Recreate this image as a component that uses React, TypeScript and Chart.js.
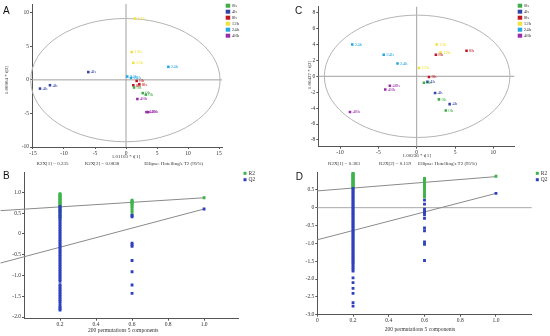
import React, { useEffect, useRef } from 'react';
import { Chart, registerables } from 'chart.js';

Chart.register(...registerables);

const SERIF = "'Liberation Serif', 'Times New Roman', serif";
const SANS = "'Liberation Sans', Arial, sans-serif";
const AXIS_COLOR = '#555555';
const W = 275;
const H = 168;

const groupNames = ['0h', '4h', '8h', '12h', '24h', '48h'];
const groupColors = ['#41ad4a', '#3443a6', '#c1161f', '#f2e23c', '#26a6e3', '#9b2ca9'];

// ---------- Panel A: PCA scores [t1, t2] ----------
const scoresA0h = [[1.3, -1.14], [2.7, -1.97], [3.2, -2.2]];
const scoresA4h = [[-6.08, 1.16], [-12.26, -0.8], [-13.87, -1.3]];
const scoresA8h = [[1.72, -0.16], [2.15, -0.65], [1.18, -0.8]];
const scoresA12h = [[1.45, 9.13], [0.92, 4.14], [1.18, 2.53]];
const scoresA24h = [[6.83, 1.94], [0.2, 0.5], [0.8, 0.3]];
const scoresA48h = [[1.83, -2.85], [3.3, -4.8], [3.6, -4.8]];
const ticksAx = [-15, -10, -5, 0, 5, 10, 15];
const ticksAy = [-10, -5, 0, 5, 10];

// ---------- Panel C: PCA scores [t1, t2] ----------
const scoresC0h = [[0.95, -0.8], [2.9, -2.9], [3.8, -4.3]];
const scoresC4h = [[1.4, -0.7], [2.4, -2.1], [4.3, -3.5]];
const scoresC8h = [[6.5, 3.2], [2.5, 2.7], [1.6, -0.1]];
const scoresC12h = [[2.6, 4.0], [3.1, 3.0], [0.3, 1.05]];
const scoresC24h = [[-8.4, 4.0], [-4.3, 2.7], [-2.5, 1.6]];
const scoresC48h = [[-3.5, -1.2], [-4.1, -1.65], [-8.7, -4.5]];
const ticksCx = [-10, -5, 0, 5, 10];
const ticksCy = [-8, -6, -4, -2, 0, 2, 4, 6, 8];

// ---------- Panel B: permutation test ----------
const bR2At02 = [0.97, 0.95, 0.93, 0.91, 0.89, 0.87, 0.85, 0.83, 0.81, 0.79, 0.77, 0.75, 0.73, 0.71, 0.69, 0.67, 0.65, 0.63, 0.6, 0.57, 0.54, 0.5, 0.46, 0.42, 0.38];
const bQ2At02 = [0.66, 0.62, 0.58, 0.54, 0.5, 0.46, 0.42, 0.38, 0.34, 0.3, 0.26, 0.22, 0.18, 0.14, 0.1, 0.06, 0.02, -0.02, -0.06, -0.1, -0.14, -0.18, -0.22, -0.26, -0.3, -0.34, -0.38, -0.42, -0.46, -0.5, -0.54, -0.58, -0.62, -0.66, -0.7, -0.74, -0.78, -0.82, -0.86, -0.9, -0.94, -0.98, -1.02, -1.06, -1.1, -1.14, -1.22, -1.26, -1.3, -1.34, -1.38, -1.42, -1.46, -1.5, -1.54, -1.58, -1.62, -1.66, -1.72, -1.76, -1.8, -1.83];
const bR2At06 = [0.81, 0.79, 0.77, 0.75, 0.73, 0.7, 0.66, 0.62, 0.57, 0.52, 0.45];
const bQ2At06 = [0.45, 0.41, -0.22, -0.26, -0.3, -0.64, -0.91, -1.23, -1.43];
const bR2At1 = [0.87];
const bQ2At1 = [0.6];
const bR2Line = [[-0.13, 0.56], [1, 0.87]];
const bQ2Line = [[-0.13, -0.7], [1, 0.6]];
const ticksBx = [0.2, 0.4, 0.6, 0.8, 1];
const ticksBy = [-2, -1.5, -1, -0.5, 0, 0.5, 1];

// ---------- Panel D: permutation test ----------
const dR2At02 = [0.97, 0.95, 0.93, 0.91, 0.89, 0.87, 0.85, 0.83, 0.81, 0.79, 0.77, 0.75, 0.73, 0.71, 0.69, 0.67, 0.65, 0.63, 0.61, 0.59, 0.57, 0.55];
const dQ2At02 = [0.54, 0.5, 0.46, 0.42, 0.38, 0.34, 0.3, 0.26, 0.22, 0.18, 0.14, 0.1, 0.06, 0.02, -0.02, -0.06, -0.1, -0.14, -0.18, -0.22, -0.26, -0.3, -0.34, -0.38, -0.42, -0.46, -0.5, -0.54, -0.58, -0.62, -0.66, -0.7, -0.74, -0.78, -0.82, -0.86, -0.9, -0.94, -0.98, -1.02, -1.06, -1.1, -1.14, -1.18, -1.22, -1.26, -1.3, -1.34, -1.38, -1.42, -1.46, -1.5, -1.54, -1.58, -1.63, -1.68, -1.73, -1.78, -1.97, -2.1, -2.26, -2.4, -2.66, -2.76];
const dR2At06 = [0.82, 0.79, 0.76, 0.73, 0.7, 0.66, 0.62, 0.58, 0.53, 0.47, 0.41, 0.35, 0.3];
const dQ2At06 = [0.21, 0.1, -0.04, -0.1, -0.14, -0.2, -0.3, -0.57, -0.65, -0.96, -1.03, -1.48];
const dR2At1 = [0.88];
const dQ2At1 = [0.4];
const dR2Line = [[0, 0.47], [1, 0.87]];
const dQ2Line = [[0, -0.9], [1, 0.4]];
const ticksDx = [0, 0.2, 0.4, 0.6, 0.8, 1];
const ticksDy = [-3, -2.5, -2, -1.5, -1, -0.5, 0, 0.5];

const R2_COLOR = '#3fb34a';
const Q2_COLOR = '#2f40bd';

function fixedAxis(min: number, max: number, ticks: number[], size: number, horizontal: boolean) {
  return {
    type: 'linear',
    min,
    max,
    afterBuildTicks: (s: any) => {
      s.ticks = ticks.map((v) => ({ value: v }));
    },
    afterFit: (s: any) => {
      if (horizontal) s.height = size;
      else s.width = size;
      s.paddingLeft = 0;
      s.paddingRight = 0;
      s.paddingTop = 0;
      s.paddingBottom = 0;
    },
    grid: { drawOnChartArea: false, drawTicks: true, tickLength: 2, color: AXIS_COLOR, lineWidth: 1 },
    border: { display: true, color: AXIS_COLOR, width: 1 },
    ticks: {
      autoSkip: false,
      maxRotation: 0,
      minRotation: 0,
      padding: 1,
      color: '#333',
      font: { family: SERIF, size: 5.5 },
    },
  };
}

function drawText(ctx: CanvasRenderingContext2D, text: string, x: number, y: number, size: number, align: CanvasTextAlign = 'center', color = '#333', family = SERIF) {
  ctx.font = `${size}px ${family}`;
  ctx.fillStyle = color;
  ctx.textAlign = align;
  ctx.textBaseline = 'middle';
  ctx.fillText(text, x, y);
}

type PcaPanel = {
  scores: number[][][];
  xMin: number; xMax: number; yMin: number; yMax: number;
  xTicks: number[]; yTicks: number[];
  ellipse: number[];
  area: { left: number; top: number; right: number; bottom: number };
  letter: string; letterX: number; letterY: number;
  legendX: number;
  xTitle: string; xTitleX: number; xTitleY: number;
  yTitle: string; yTitleX: number; yTitleY: number;
  footer: [string, number][]; footerY: number;
};

function pcaConfig(p: PcaPanel): any {
  const plugin = {
    id: 'pcaDecor',
    beforeDatasetsDraw(chart: any) {
      const { ctx, chartArea: a, scales } = chart;
      const x = scales.x, y = scales.y;
      ctx.save();
      ctx.strokeStyle = '#a0a0a0';
      ctx.lineWidth = 1;
      const x0 = x.getPixelForValue(0);
      const y0 = y.getPixelForValue(0);
      ctx.beginPath();
      ctx.moveTo(x0, a.top);
      ctx.lineTo(x0, a.bottom);
      ctx.moveTo(a.left, y0);
      ctx.lineTo(a.right, y0);
      ctx.stroke();
      const cx = x.getPixelForValue(p.ellipse[0]);
      const cy = y.getPixelForValue(p.ellipse[1]);
      const rx = Math.abs(x.getPixelForValue(p.ellipse[0] + p.ellipse[2]) - cx);
      const ry = Math.abs(y.getPixelForValue(p.ellipse[1] + p.ellipse[3]) - cy);
      ctx.strokeStyle = '#b4b4b4';
      ctx.beginPath();
      ctx.ellipse(cx, cy, rx, ry, 0, 0, Math.PI * 2);
      ctx.stroke();
      ctx.restore();
    },
    afterDatasetsDraw(chart: any) {
      const { ctx } = chart;
      ctx.save();
      chart.data.datasets.forEach((ds: any, i: number) => {
        const meta = chart.getDatasetMeta(i);
        meta.data.forEach((el: any) => {
          drawText(ctx, ds.label, el.x + 2.5, el.y, 5, 'left', ds.backgroundColor);
        });
      });
      ctx.restore();
    },
    afterDraw(chart: any) {
      const { ctx } = chart;
      ctx.save();
      drawText(ctx, p.letter, p.letterX, p.letterY, 10, 'left', '#111', SANS);
      groupNames.forEach((g, i) => {
        const yy = 5.7 + i * 6;
        ctx.fillStyle = groupColors[i];
        ctx.fillRect(p.legendX, yy - 2, 4.5, 4);
        drawText(ctx, g, p.legendX + 6, yy, 5, 'left', '#444');
      });
      drawText(ctx, p.xTitle, p.xTitleX, p.xTitleY, 5, 'center', '#333');
      ctx.save();
      ctx.translate(p.yTitleX, p.yTitleY);
      ctx.rotate(-Math.PI / 2);
      drawText(ctx, p.yTitle, 0, 0, 5, 'center', '#333');
      ctx.restore();
      p.footer.forEach(([t, fx]) => drawText(ctx, t, fx, p.footerY, 5, 'center', '#333'));
      ctx.restore();
    },
  };
  return {
    type: 'scatter',
    data: {
      datasets: p.scores.map((pts, i) => ({
        label: groupNames[i],
        data: pts.map(([x, y]) => ({ x, y })),
        pointStyle: 'rect',
        pointRadius: 1.8,
        borderWidth: 0,
        backgroundColor: groupColors[i],
        borderColor: groupColors[i],
      })),
    },
    options: {
      responsive: false,
      animation: false,
      devicePixelRatio: 1,
      events: [],
      layout: { padding: { left: 0, top: p.area.top, right: W - p.area.right, bottom: 0 } },
      plugins: { legend: { display: false }, tooltip: { enabled: false } },
      scales: {
        x: fixedAxis(p.xMin, p.xMax, p.xTicks, H - p.area.bottom, true),
        y: fixedAxis(p.yMin, p.yMax, p.yTicks, p.area.left, false),
      },
    },
    plugins: [plugin],
  };
}

type PermPanel = {
  r2: number[][]; q2: number[][];
  r2Line: number[][]; q2Line: number[][];
  xMin: number; xMax: number; yMin: number; yMax: number;
  xTicks: number[]; yTicks: number[];
  area: { left: number; top: number; right: number; bottom: number };
  letter: string; letterX: number; letterY: number;
  legendX: number;
  xTitleX: number; xTitleY: number;
  zeroLine: boolean;
};

function column(x: number, values: number[]) {
  return values.map((v) => [x, v]);
}

function permConfig(p: PermPanel): any {
  const plugin = {
    id: 'permDecor',
    beforeDatasetsDraw(chart: any) {
      if (!p.zeroLine) return;
      const { ctx, chartArea: a, scales } = chart;
      const y0 = scales.y.getPixelForValue(0);
      ctx.save();
      ctx.strokeStyle = '#a8a8a8';
      ctx.lineWidth = 1;
      ctx.beginPath();
      ctx.moveTo(a.left, y0);
      ctx.lineTo(a.right, y0);
      ctx.stroke();
      ctx.restore();
    },
    afterDraw(chart: any) {
      const { ctx } = chart;
      ctx.save();
      drawText(ctx, p.letter, p.letterX, p.letterY, 10, 'left', '#111', SANS);
      [['R2', R2_COLOR], ['Q2', Q2_COLOR]].forEach(([t, c], i) => {
        const yy = 5.3 + i * 6.4;
        ctx.fillStyle = c;
        ctx.fillRect(p.legendX - 1.5, yy - 1.5, 3, 3);
        drawText(ctx, t, p.legendX + 3.5, yy, 5.5, 'left', '#333');
      });
      drawText(ctx, '200 permutations 5 components', p.xTitleX, p.xTitleY, 5.5, 'center', '#333');
      ctx.restore();
    },
  };
  const pts = (arr: number[][]) => arr.map(([x, y]) => ({ x, y }));
  return {
    type: 'scatter',
    data: {
      datasets: [
        { label: 'Q2', data: pts(p.q2), pointStyle: 'rect', pointRadius: 2, borderWidth: 0, backgroundColor: Q2_COLOR, borderColor: Q2_COLOR, order: 1 },
        { label: 'R2', data: pts(p.r2), pointStyle: 'rect', pointRadius: 2, borderWidth: 0, backgroundColor: R2_COLOR, borderColor: R2_COLOR, order: 2 },
        { label: 'R2 fit', data: pts(p.r2Line), showLine: true, pointRadius: 0, borderColor: '#8a8a8a', borderWidth: 1, order: 3, clip: false },
        { label: 'Q2 fit', data: pts(p.q2Line), showLine: true, pointRadius: 0, borderColor: '#8a8a8a', borderWidth: 1, order: 3, clip: false },
      ],
    },
    options: {
      responsive: false,
      animation: false,
      devicePixelRatio: 1,
      events: [],
      layout: { padding: { left: 0, top: p.area.top, right: W - p.area.right, bottom: 0 } },
      plugins: { legend: { display: false }, tooltip: { enabled: false } },
      scales: {
        x: fixedAxis(p.xMin, p.xMax, p.xTicks, H - p.area.bottom, true),
        y: fixedAxis(p.yMin, p.yMax, p.yTicks, p.area.left, false),
      },
    },
    plugins: [plugin],
  };
}

const panelA: PcaPanel = {
  scores: [scoresA0h, scoresA4h, scoresA8h, scoresA12h, scoresA24h, scoresA48h],
  xMin: -15.16, xMax: 15.48, yMin: -10, yMax: 11.3,
  xTicks: ticksAx, yTicks: ticksAy,
  ellipse: [-0.1, -0.04, 15.27, 9.18],
  area: { left: 32, top: 2, right: 222, bottom: 147 },
  letter: 'A', letterX: 3, letterY: 11.5,
  legendX: 225.7,
  xTitle: '1.01103 * t[1]', xTitleX: 126, xTitleY: 156.7,
  yTitle: '1.00904 * t[2]', yTitleX: 6.5, yTitleY: 80,
  footer: [['R2X[1] = 0.235', 52.5], ['R2X[2] = 0.0838', 102], ["Ellipse: Hotelling's T2 (95%)", 173.7]],
  footerY: 164,
};

const panelC: PcaPanel = {
  scores: [scoresC0h, scoresC4h, scoresC8h, scoresC12h, scoresC24h, scoresC48h],
  xMin: -12.83, xMax: 12.73, yMin: -8.85, yMax: 8.75,
  xTicks: ticksCx, yTicks: ticksCy,
  ellipse: [0.06, 0, 12.1, 7.69],
  area: { left: 43.3, top: 6.7, right: 239.3, bottom: 146.7 },
  letter: 'C', letterX: 20, letterY: 11.7,
  legendX: 242.7,
  xTitle: '1.00236 * t[1]', xTitleX: 141.7, xTitleY: 156,
  yTitle: '1.00427 * t[2]', yTitleX: 35, yTitleY: 75,
  footer: [['R2X[1] = 0.383', 69], ['R2X[2] = 0.159', 120], ["Ellipse: Hotelling's T2 (95%)", 172.5]],
  footerY: 163.3,
};

const panelB: PermPanel = {
  r2: [...column(0.2, bR2At02), ...column(0.6, bR2At06), ...column(1, bR2At1)],
  q2: [...column(0.2, bQ2At02), ...column(0.6, bQ2At06), ...column(1, bQ2At1)],
  r2Line: bR2Line, q2Line: bQ2Line,
  xMin: 0, xMax: 1.19, yMin: -2.04, yMax: 1.49,
  xTicks: ticksBx, yTicks: ticksBy,
  area: { left: 24, top: 2.7, right: 238.3, bottom: 150.7 },
  letter: 'B', letterX: 3, letterY: 8.5,
  legendX: 245,
  xTitleX: 123.3, xTitleY: 162.3,
  zeroLine: false,
};

const panelD: PermPanel = {
  r2: [...column(0.2, dR2At02), ...column(0.6, dR2At06), ...column(1, dR2At1)],
  q2: [...column(0.2, dQ2At02), ...column(0.6, dQ2At06), ...column(1, dQ2At1)],
  r2Line: dR2Line, q2Line: dQ2Line,
  xMin: 0, xMax: 1.2, yMin: -3, yMax: 1.0,
  xTicks: ticksDx, yTicks: ticksDy,
  area: { left: 42.3, top: 3.3, right: 256.7, bottom: 146.7 },
  letter: 'D', letterX: 20.7, letterY: 9,
  legendX: 262.3,
  xTitleX: 145, xTitleY: 161.7,
  zeroLine: true,
};

function ChartCanvas({ make, left, top }: { make: () => any; left: number; top: number }) {
  const ref = useRef<HTMLCanvasElement>(null);
  useEffect(() => {
    const chart = new Chart(ref.current as HTMLCanvasElement, make());
    return () => chart.destroy();
  }, []);
  return (
    <canvas
      ref={ref}
      width={W}
      height={H}
      style={{ position: 'absolute', left, top, width: W, height: H, display: 'block' }}
    />
  );
}

export default function App() {
  return (
    <div style={{ position: 'absolute', left: 0, top: 0, width: 550, height: 336, background: '#ffffff', overflow: 'hidden' }}>
      <ChartCanvas make={() => pcaConfig(panelA)} left={0} top={0} />
      <ChartCanvas make={() => pcaConfig(panelC)} left={275} top={0} />
      <ChartCanvas make={() => permConfig(panelB)} left={0} top={168} />
      <ChartCanvas make={() => permConfig(panelD)} left={275} top={168} />
    </div>
  );
}
